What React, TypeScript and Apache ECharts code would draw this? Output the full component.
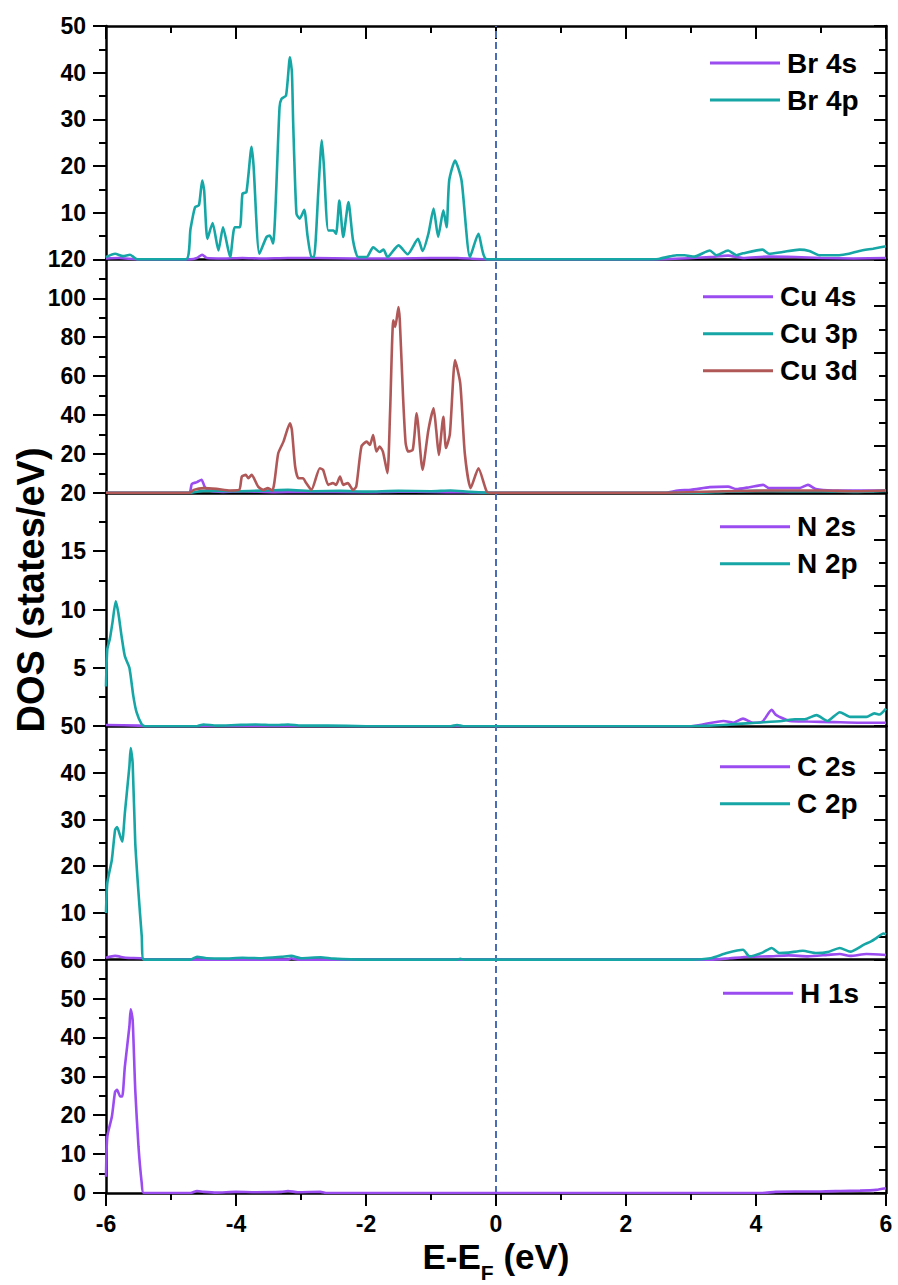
import React, { useEffect, useRef } from "react";
import * as echarts from "echarts";

type P = [number, number];

// ---------- Data (E - E_F in eV, DOS in states/eV) ----------
const xTicks = { min: -6, max: 6, interval: 2 };
const fermiLevel = 0;

const br4s: P[] = [[-6,0.2],[-5.8,0.3],[-5.5,0],[-4.7,0],[-4.6,0.3],[-4.52,1.0],[-4.45,0.3],[-4.2,0.2],[-3.9,0.3],[-3.6,0.2],[-3.2,0.3],[-2.8,0.3],[-2.2,0.2],[-1.5,0.2],[-1.0,0.3],[-0.6,0.3],[-0.3,0.1],[0,0],[2.5,0],[3.3,0.5],[3.57,0.8],[3.8,0.3],[4.2,0.6],[4.6,0.5],[5.0,0.3],[5.5,0.2],[6,0.3]];
const br4p: P[] = [[-6,0.5],[-5.86,1.2],[-5.74,0.7],[-5.63,1.0],[-5.52,0],[-4.77,0],[-4.7,6.5],[-4.63,11.2],[-4.57,11.6],[-4.52,16.9],[-4.49,14.8],[-4.44,4.4],[-4.36,7.8],[-4.27,1.9],[-4.2,6.9],[-4.09,0.5],[-4.02,6.9],[-3.94,6.9],[-3.9,14.1],[-3.84,14.4],[-3.76,24.1],[-3.73,20.1],[-3.64,1.2],[-3.53,4.8],[-3.48,5.1],[-3.43,3.4],[-3.33,32.6],[-3.3,34.4],[-3.23,35.1],[-3.17,43.3],[-3.14,40.1],[-3.12,29.1],[-3.07,9.8],[-3.02,8.7],[-2.95,10.6],[-2.9,5.1],[-2.84,0.5],[-2.8,0.5],[-2.73,15.5],[-2.68,25.5],[-2.65,20.5],[-2.58,6.2],[-2.5,6.2],[-2.46,5.5],[-2.41,12.6],[-2.35,4.8],[-2.27,12.3],[-2.2,4.1],[-2.12,0.5],[-1.99,0.5],[-1.89,2.6],[-1.79,1.6],[-1.73,2.1],[-1.67,0.5],[-1.5,3.0],[-1.36,1.1],[-1.2,4.4],[-1.13,1.8],[-1.04,5.5],[-0.96,10.9],[-0.89,4.8],[-0.81,10.5],[-0.76,6.9],[-0.72,16.9],[-0.63,21.2],[-0.53,16.9],[-0.4,0.5],[-0.27,5.5],[-0.14,0],[2.27,0],[2.5,0.1],[2.78,0.9],[2.9,0.9],[3.05,0.6],[3.29,1.9],[3.39,0.9],[3.57,1.9],[3.7,0.9],[3.8,1.3],[4.1,2.1],[4.2,1.2],[4.41,1.6],[4.67,2.1],[4.82,1.8],[4.97,0.9],[5.28,0.9],[5.43,1.2],[5.59,1.8],[5.8,2.3],[6,2.8]];

const cu4s: P[] = [[-6,0],[-4.72,0],[-4.68,4.5],[-4.6,5.5],[-4.53,6.7],[-4.48,3.0],[-4.4,1.0],[-4.2,0.5],[-3.9,0.8],[-3.4,0.3],[-3.0,0.5],[-2,0.3],[-1.5,0.6],[-1,0.4],[-0.5,0.3],[0,0],[2.6,0],[2.8,1.2],[3.0,1.5],[3.29,2.9],[3.57,3.2],[3.7,1.9],[3.9,2.9],[4.11,4.1],[4.2,2.4],[4.4,2.4],[4.67,2.4],[4.8,4.1],[4.92,1.9],[5.18,1.2],[6,1.2]];
const cu3p: P[] = [[-6,0],[-4.7,0],[-4.5,1.0],[-4.0,0.8],[-3.5,1.2],[-3.2,1.5],[-2.8,0.8],[-2.4,1.0],[-2,0.6],[-1.5,1.0],[-1.0,0.8],[-0.7,1.2],[-0.4,0.5],[0,0],[3,0],[3.5,0.5],[4,1.0],[4.5,0.8],[5,0.8],[5.5,0.5],[6,1.0]];
const cu3d: P[] = [[-6,0],[-4.72,0],[-4.65,1.5],[-4.5,2.4],[-4.3,2.0],[-4.09,1.2],[-3.95,1.5],[-3.91,8.4],[-3.85,9.2],[-3.81,7.5],[-3.76,9.2],[-3.66,3.2],[-3.58,1.5],[-3.51,2.4],[-3.44,1.2],[-3.35,20.3],[-3.27,26.3],[-3.17,35.7],[-3.14,32.3],[-3.09,13.5],[-3.04,7.5],[-2.97,7.5],[-2.92,5.0],[-2.84,1.5],[-2.71,12.6],[-2.66,11.8],[-2.58,4.1],[-2.51,5.0],[-2.46,4.1],[-2.4,8.4],[-2.35,4.1],[-2.28,5.0],[-2.2,1.5],[-2.15,3.2],[-2.07,23.8],[-1.99,26.3],[-1.94,24.6],[-1.89,29.7],[-1.84,21.2],[-1.79,23.8],[-1.74,21.2],[-1.67,10.1],[-1.63,40.9],[-1.58,88.7],[-1.55,85.3],[-1.5,95.5],[-1.48,88.7],[-1.43,49.4],[-1.39,25.5],[-1.35,21.2],[-1.28,22.1],[-1.22,40.9],[-1.2,35.7],[-1.13,11.8],[-1.04,32.3],[-0.96,43.4],[-0.92,32.3],[-0.88,19.5],[-0.81,39.1],[-0.77,23],[-0.71,30],[-0.63,68.2],[-0.55,56.3],[-0.48,20.3],[-0.39,2.4],[-0.27,12.6],[-0.14,0.5],[-0.05,0],[2.5,0],[3.5,0.8],[4.2,1.2],[5,1.2],[5.5,0.8],[6,1.2]];

const n2s: P[] = [[-6,0.1],[-5.5,0.05],[-5.4,0],[3.0,0],[3.5,0.45],[3.65,0.3],[3.8,0.65],[3.95,0.3],[4.1,0.4],[4.24,1.4],[4.3,1.0],[4.36,0.8],[4.52,0.45],[4.8,0.4],[5.2,0.35],[5.6,0.3],[6,0.3]];
const n2p: P[] = [[-6,3.4],[-5.98,6.6],[-5.94,7.5],[-5.9,8.9],[-5.85,10.7],[-5.81,9.7],[-5.76,7.7],[-5.71,6.0],[-5.64,5.0],[-5.58,2.6],[-5.53,1.2],[-5.45,0.15],[-5.4,0],[-4.6,0],[-4.5,0.15],[-4.3,0.05],[-4,0.1],[-3.7,0.15],[-3.4,0.1],[-3.2,0.15],[-3,0.05],[-2.6,0.05],[-2,0],[-0.7,0],[-0.6,0.1],[-0.5,0],[3.0,0],[3.5,0.1],[4.0,0.3],[4.4,0.45],[4.6,0.6],[4.75,0.6],[4.93,0.95],[5.1,0.45],[5.29,1.2],[5.45,0.8],[5.7,0.8],[5.82,1.1],[5.9,1.0],[6,1.5]];

const c2s: P[] = [[-6,0.4],[-5.86,0.8],[-5.7,0.4],[-5.45,0.3],[-5.4,0],[-3.2,0],[-3.15,0.3],[-3.05,0],[3.3,0],[3.6,0.3],[3.9,0.6],[4.2,0.7],[4.5,0.9],[4.8,0.7],[5.1,1.0],[5.29,1.2],[5.45,0.8],[5.7,1.2],[6,1.0]];
const c2p: P[] = [[-6,10],[-5.98,16.4],[-5.91,21.4],[-5.86,27.8],[-5.83,28.4],[-5.78,26.4],[-5.75,25.3],[-5.71,31.4],[-5.64,41.4],[-5.62,45.3],[-5.59,42.1],[-5.55,25.0],[-5.5,14.3],[-5.45,5.0],[-5.42,0],[-4.7,0],[-4.6,0.6],[-4.45,0.3],[-4.2,0.2],[-3.9,0.4],[-3.6,0.3],[-3.3,0.6],[-3.15,0.8],[-3.0,0.3],[-2.7,0.5],[-2.5,0.2],[-2,0],[-0.6,0],[-0.55,0.15],[-0.5,0],[3.0,0],[3.3,0.3],[3.55,1.4],[3.8,2.1],[3.9,0.7],[4.1,1.5],[4.24,2.5],[4.36,1.4],[4.5,1.5],[4.72,1.9],[4.93,1.4],[5.1,1.6],[5.29,2.5],[5.45,1.7],[5.66,3.2],[5.77,3.9],[5.85,4.6],[5.96,5.6],[6,5.4]];

const h1s: P[] = [[-6,4.2],[-5.98,14.5],[-5.91,19.6],[-5.86,26.0],[-5.83,26.5],[-5.78,24.8],[-5.75,24.8],[-5.71,32.5],[-5.64,42.8],[-5.62,47.2],[-5.59,44.5],[-5.55,26.5],[-5.5,11.9],[-5.45,2.5],[-5.42,0],[-4.7,0],[-4.6,0.5],[-4.5,0.3],[-4.3,0.1],[-4.0,0.3],[-3.7,0.2],[-3.3,0.3],[-3.2,0.5],[-3.05,0.2],[-2.7,0.3],[-2.6,0],[4.1,0],[4.3,0.3],[4.6,0.4],[5.0,0.4],[5.3,0.5],[5.6,0.6],[5.85,0.8],[6,1.2]];

// panel y scales
const panelMax = [50, 120, 20, 50, 60];
const panelInterval = [10, 20, 5, 10, 10];

const PURPLE = "#9a4cf0";
const TEAL = "#17a6a6";
const BROWN = "#b05858";

const panels: { name: string; data: P[]; color: string }[][] = [
  [{ name: "Br 4s", data: br4s, color: PURPLE }, { name: "Br 4p", data: br4p, color: TEAL }],
  [{ name: "Cu 4s", data: cu4s, color: PURPLE }, { name: "Cu 3p", data: cu3p, color: TEAL }, { name: "Cu 3d", data: cu3d, color: BROWN }],
  [{ name: "N 2s", data: n2s, color: PURPLE }, { name: "N 2p", data: n2p, color: TEAL }],
  [{ name: "C 2s", data: c2s, color: PURPLE }, { name: "C 2p", data: c2p, color: TEAL }],
  [{ name: "H 1s", data: h1s, color: PURPLE }],
];

// ---------- Layout ----------
const FONT = '"Liberation Sans", Arial, Helvetica, sans-serif';
const W = 898;
const H = 1285;
const LEFT = 106;
const RIGHT = 12;
const TOP = 26;
const PH = 233.4;
const legendLeft = [710, 703, 720, 720, 723];
const legendTop = [49, 282.7, 512.7, 752.7, 979.3];

function buildOption() {
  const axisLine = { show: true, onZero: false, lineStyle: { color: "#000", width: 2.5 } };
  const tickStyle = { color: "#000", width: 2 };
  const grid: any[] = [];
  const xAxis: any[] = [];
  const yAxis: any[] = [];
  const series: any[] = [];
  const legend: any[] = [];
  const n = panels.length;

  for (let i = 0; i < n; i++) {
    grid.push({ left: LEFT, right: RIGHT, top: TOP + i * PH, height: PH });
  }
  // overlay grid for Fermi level
  grid.push({ left: LEFT, right: RIGHT, top: TOP, height: PH * n });

  for (let i = 0; i < n; i++) {
    const last = i === n - 1;
    xAxis.push({
      type: "value", gridIndex: i, position: "bottom",
      min: xTicks.min, max: xTicks.max, interval: xTicks.interval,
      axisLine,
      axisTick: { show: last, inside: false, length: 13, lineStyle: tickStyle },
      minorTick: { show: last, splitNumber: 2, length: 7, lineStyle: tickStyle },
      axisLabel: { show: last, fontSize: 23, fontWeight: "bold", color: "#000", fontFamily: FONT, margin: 19 },
      splitLine: { show: false },
    });
  }
  // top axis of first panel
  xAxis.push({
    type: "value", gridIndex: 0, position: "top",
    min: xTicks.min, max: xTicks.max, interval: xTicks.interval,
    axisLine,
    axisTick: { show: true, inside: true, length: 13, lineStyle: tickStyle },
    minorTick: { show: true, splitNumber: 2, length: 7, lineStyle: tickStyle },
    axisLabel: { show: false },
    splitLine: { show: false },
  });
  // overlay x
  xAxis.push({ type: "value", gridIndex: n, min: xTicks.min, max: xTicks.max, show: false, axisLine: { onZero: false } });

  for (let i = 0; i < n; i++) {
    yAxis.push({
      type: "value", gridIndex: i, position: "left",
      min: 0, max: panelMax[i], interval: panelInterval[i],
      axisLine,
      axisTick: { show: true, inside: false, length: 13, lineStyle: tickStyle },
      minorTick: { show: true, splitNumber: 2, length: 7, lineStyle: tickStyle },
      axisLabel: {
        show: true, fontSize: 23, fontWeight: "bold", color: "#000", fontFamily: FONT, margin: 20,
        showMinLabel: i === n - 1, showMaxLabel: true,
      },
      splitLine: { show: false },
    });
  }
  for (let i = 0; i < n; i++) {
    yAxis.push({
      type: "value", gridIndex: i, position: "right",
      min: 0, max: 10, interval: 2,
      axisLine,
      axisTick: { show: true, inside: true, length: 12, lineStyle: tickStyle },
      minorTick: { show: true, splitNumber: 2, length: 7, lineStyle: tickStyle },
      axisLabel: { show: false },
      splitLine: { show: false },
    });
  }
  yAxis.push({ type: "value", gridIndex: n, min: 0, max: 1, show: false, axisLine: { onZero: false } });

  panels.forEach((group, i) => {
    group.forEach((s) => {
      series.push({
        type: "line", name: s.name, xAxisIndex: i, yAxisIndex: i,
        data: s.data, symbol: "none", showSymbol: false, smooth: 0.2,
        lineStyle: { color: s.color, width: 2.6 }, itemStyle: { color: s.color },
        z: 3,
      });
    });
    legend.push({
      orient: "vertical", left: legendLeft[i], top: legendTop[i], padding: 0,
      itemWidth: 70, itemHeight: 3, itemGap: 9, icon: "rect", selectedMode: false,
      data: group.map((s) => s.name),
      textStyle: { fontSize: 28, fontWeight: "bold", color: "#000", fontFamily: FONT, padding: [0, 0, 0, 2] },
    });
  });

  series.push({
    type: "line", name: "E_F", xAxisIndex: n + 1, yAxisIndex: 2 * n,
    data: [[fermiLevel, 0], [fermiLevel, 1]], symbol: "none", silent: true,
    lineStyle: { color: "#4a6db5", width: 2, type: [7, 4] }, z: 2,
  });

  const graphic = [
    {
      type: "text", x: 31, y: 590, rotation: Math.PI / 2,
      style: {
        text: "DOS (states/eV)", fill: "#000", fontSize: 38, fontWeight: "bold", fontFamily: FONT,
        align: "center", verticalAlign: "middle", textAlign: "center", textVerticalAlign: "middle",
      },
    },
    {
      type: "text", x: 496, y: 1256,
      style: {
        text: "{a|E-E}{b|F}{a| (eV)}", fill: "#000",
        align: "center", verticalAlign: "middle", textAlign: "center", textVerticalAlign: "middle",
        rich: {
          a: { fontSize: 35, fontWeight: "bold", fontFamily: FONT, lineHeight: 40, fill: "#000" },
          b: { fontSize: 21, fontWeight: "bold", fontFamily: FONT, lineHeight: 21, padding: [32, 0, 0, 0], fill: "#000" },
        },
      },
    },
  ];

  return {
    animation: false,
    backgroundColor: "#fff",
    grid, xAxis, yAxis, series, legend, graphic,
  };
}

export default function App() {
  const ref = useRef<HTMLDivElement>(null);
  useEffect(() => {
    if (!ref.current) return;
    const chart = echarts.init(ref.current, undefined, { renderer: "svg", width: W, height: H });
    chart.setOption(buildOption() as any);
    return () => chart.dispose();
  }, []);
  return <div ref={ref} style={{ position: "absolute", left: 0, top: 0, width: W, height: H, background: "#fff" }} />;
}
